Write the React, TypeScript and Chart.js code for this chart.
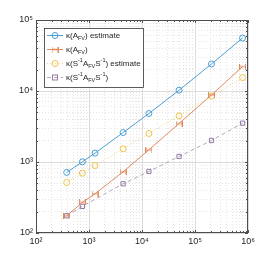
import React, { useEffect, useRef } from "react";
import { Chart, registerables } from "chart.js";
Chart.register(...registerables);

const xValues = [380, 750, 1300, 4400, 13500, 50000, 205000, 790000];
const blueEstimate = [713, 1007, 1333, 2600, 4820, 10260, 24050, 55800];
const orangeKappa = [175, 270, 357, 728, 1485, 3485, 8810, 22060];
const yellowEstimate = [515, 697, 893, 1534, 2520, 4467, 8440, 15450];
const purpleKappa = [175, 237, null, 493, 736, 1197, 2010, 3524];

const xDecades = [2, 3, 4, 5, 6];
const yDecades = [2, 3, 4, 5];
const supDigits: Record<string, string> = { "2": "²", "3": "³", "4": "⁴", "5": "⁵", "6": "⁶" };

const BLUE = "#4a9fd4";
const ORANGE = "#e08a5f";
const YELLOW = "#f0c24a";
const PURPLE = "#957aa3";
const PURPLE_LINE = "#b3a8b8";
const TEXT = "#262626";

function gridValues(decades: number[]) {
  const out: number[] = [];
  for (let i = 0; i < decades.length; i++) {
    const base = Math.pow(10, decades[i]);
    if (i === decades.length - 1) {
      out.push(base);
    } else {
      for (let m = 1; m <= 9; m++) out.push(m * base);
    }
  }
  return out;
}
function isMajor(v: number) {
  const l = Math.log10(v);
  return Math.abs(l - Math.round(l)) < 1e-9;
}
function decadeLabel(v: number) {
  if (!isMajor(v)) return "";
  const e = String(Math.round(Math.log10(v)));
  return "10" + e.split("").map((d) => supDigits[d] || d).join("");
}

type Seg = { t: string; k: "n" | "sub" | "sup" };
const legendItems: { segs: Seg[]; idx: number }[] = [
  { idx: 0, segs: [{ t: "κ(A", k: "n" }, { t: "FV", k: "sub" }, { t: ") estimate", k: "n" }] },
  { idx: 1, segs: [{ t: "κ(A", k: "n" }, { t: "FV", k: "sub" }, { t: ")", k: "n" }] },
  {
    idx: 2,
    segs: [
      { t: "κ(S", k: "n" }, { t: "-1", k: "sup" }, { t: "A", k: "n" }, { t: "FV", k: "sub" },
      { t: "S", k: "n" }, { t: "-1", k: "sup" }, { t: ") estimate", k: "n" },
    ],
  },
  {
    idx: 3,
    segs: [
      { t: "κ(S", k: "n" }, { t: "-1", k: "sup" }, { t: "A", k: "n" }, { t: "FV", k: "sub" },
      { t: "S", k: "n" }, { t: "-1", k: "sup" }, { t: ")", k: "n" },
    ],
  },
];

const FONT = "Liberation Sans, Arial, sans-serif";

export default function App() {
  const ref = useRef<HTMLCanvasElement | null>(null);
  useEffect(() => {
    document.body.style.margin = "0";
    const canvas = ref.current!;
    const mk = document.createElement("canvas");
    mk.width = 7;
    mk.height = 6;
    const mc = mk.getContext("2d")!;
    mc.strokeStyle = ORANGE;
    mc.lineWidth = 1;
    mc.beginPath();
    mc.moveTo(0.5, 0); mc.lineTo(0.5, 6);
    mc.moveTo(6.5, 0); mc.lineTo(6.5, 6);
    mc.moveTo(0.5, 3); mc.lineTo(6.5, 3);
    mc.stroke();

    const xTicks = gridValues(xDecades);
    const yTicks = gridValues(yDecades);

    const boxPlugin = {
      id: "box",
      afterDraw(chart: any) {
        const { ctx, chartArea: a, scales } = chart;
        ctx.save();
        ctx.strokeStyle = "#4d4d4d";
        ctx.lineWidth = 1;
        ctx.beginPath();
        for (const v of xTicks) {
          const px = Math.round(scales.x.getPixelForValue(v)) + 0.5;
          const len = isMajor(v) ? 3 : 2;
          ctx.moveTo(px, a.bottom); ctx.lineTo(px, a.bottom - len);
          ctx.moveTo(px, a.top); ctx.lineTo(px, a.top + len);
        }
        for (const v of yTicks) {
          const py = Math.round(scales.y.getPixelForValue(v)) + 0.5;
          const len = isMajor(v) ? 3 : 2;
          ctx.moveTo(a.left, py); ctx.lineTo(a.left + len, py);
          ctx.moveTo(a.right, py); ctx.lineTo(a.right - len, py);
        }
        ctx.stroke();
        ctx.strokeRect(Math.round(a.left) + 0.5, Math.round(a.top) + 0.5, Math.round(a.right - a.left) - 1, Math.round(a.bottom - a.top) - 1);

        // legend
        const lx = 44.5, ly = 28.5, lw = 99, lh = 59;
        ctx.fillStyle = "#ffffff";
        ctx.fillRect(lx, ly, lw, lh);
        ctx.strokeStyle = "#333333";
        ctx.lineWidth = 0.8;
        ctx.strokeRect(lx, ly, lw, lh);
        legendItems.forEach((item, i) => {
          const ds = chart.data.datasets[item.idx];
          const y = 35.5 + i * 14;
          ctx.save();
          ctx.strokeStyle = ds.borderColor;
          ctx.lineWidth = 1;
          ctx.setLineDash(ds.borderDash || []);
          ctx.beginPath();
          ctx.moveTo(47, y); ctx.lineTo(63, y);
          ctx.stroke();
          ctx.setLineDash([]);
          ctx.strokeStyle = ds.pointBorderColor;
          const cx = 55;
          if (item.idx === 1) {
            ctx.drawImage(mk, cx - 3.5, y - 3);
          } else if (item.idx === 3) {
            ctx.strokeRect(cx - 2.5, y - 2.5, 5, 5);
          } else {
            ctx.beginPath();
            ctx.arc(cx, y, 3, 0, Math.PI * 2);
            ctx.stroke();
          }
          ctx.restore();
          let tx = 66;
          ctx.fillStyle = TEXT;
          ctx.textBaseline = "middle";
          for (const s of item.segs) {
            const size = s.k === "n" ? 8 : 5.5;
            ctx.font = `${size}px ${FONT}`;
            const dy = s.k === "sub" ? 2.5 : s.k === "sup" ? -3 : 0;
            ctx.fillText(s.t, tx, y + dy);
            tx += ctx.measureText(s.t).width;
          }
        });
        ctx.restore();
      },
    };

    const toPts = (arr: (number | null)[]) =>
      xValues.map((x, i) => ({ x, y: arr[i] })).filter((p) => p.y !== null);

    const chart = new Chart(canvas, {
      type: "line",
      data: {
        datasets: [
          {
            data: toPts(blueEstimate) as any,
            borderColor: BLUE,
            borderWidth: 1,
            pointStyle: "circle",
            pointRadius: 3,
            pointBorderColor: BLUE,
            pointBackgroundColor: "transparent",
            pointBorderWidth: 1,
          },
          {
            data: toPts(orangeKappa) as any,
            borderColor: ORANGE,
            borderWidth: 1,
            pointStyle: mk as any,
            pointRadius: 3,
            pointBorderColor: ORANGE,
          },
          {
            data: toPts(yellowEstimate) as any,
            borderColor: "#f5d98a",
            borderWidth: 1,
            borderDash: [1, 1.5],
            pointStyle: "circle",
            pointRadius: 3,
            pointBorderColor: YELLOW,
            pointBackgroundColor: "transparent",
            pointBorderWidth: 1,
          },
          {
            data: toPts(purpleKappa) as any,
            borderColor: PURPLE_LINE,
            borderWidth: 1,
            borderDash: [4, 3],
            pointStyle: "rect",
            pointRadius: 3,
            pointBorderColor: PURPLE,
            pointBackgroundColor: "transparent",
            pointBorderWidth: 1,
          },
        ],
      },
      options: {
        animation: false,
        responsive: false,
        devicePixelRatio: 1,
        layout: { padding: { top: 20, right: 28, left: 0, bottom: 0 } },
        plugins: { legend: { display: false }, tooltip: { enabled: false } },
        scales: {
          x: {
            type: "logarithmic",
            min: 100,
            max: 1e6,
            afterBuildTicks: (s: any) => { s.ticks = xTicks.map((v) => ({ value: v, major: isMajor(v) })); },
            afterFit: (s: any) => { s.height = 30; },
            ticks: {
              autoSkip: false,
              maxRotation: 0,
              padding: 3,
              color: TEXT,
              font: { family: FONT, size: 9 },
              callback: (v: any) => decadeLabel(Number(v)),
            },
            grid: {
              drawTicks: false,
              color: (c: any) => (c.tick && isMajor(c.tick.value) ? "#dcdcdc" : "#e4e4e4"),
            },
            border: {
              display: false,
              dash: (c: any) => (c.tick && !isMajor(c.tick.value) ? [1, 2] : []),
            } as any,
          },
          y: {
            type: "logarithmic",
            min: 100,
            max: 1e5,
            afterBuildTicks: (s: any) => { s.ticks = yTicks.map((v) => ({ value: v, major: isMajor(v) })); },
            afterFit: (s: any) => { s.width = 36; },
            ticks: {
              autoSkip: false,
              padding: 3,
              color: TEXT,
              font: { family: FONT, size: 9 },
              callback: (v: any) => decadeLabel(Number(v)),
            },
            grid: {
              drawTicks: false,
              color: (c: any) => (c.tick && isMajor(c.tick.value) ? "#dcdcdc" : "#e4e4e4"),
            },
            border: {
              display: false,
              dash: (c: any) => (c.tick && !isMajor(c.tick.value) ? [1, 2] : []),
            } as any,
          },
        },
      },
      plugins: [boxPlugin],
    });
    return () => chart.destroy();
  }, []);
  return <canvas ref={ref} width={276} height={263} style={{ display: "block", width: 276, height: 263 }} />;
}
